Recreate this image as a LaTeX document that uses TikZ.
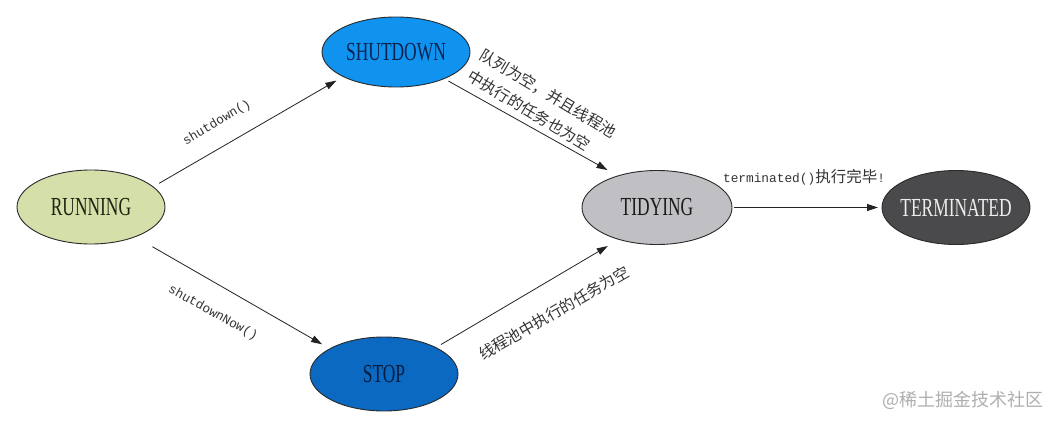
\documentclass[tikz,border=0pt]{standalone}
\usepackage{fontspec}
\setmainfont{Liberation Serif}
\newfontfamily\cjkf{Noto Sans CJK SC}
\newfontfamily\monof{Liberation Mono}
\usetikzlibrary{shapes.geometric,arrows.meta}
\definecolor{runfill}{HTML}{D4DFAA}
\definecolor{runtext}{HTML}{1E2410}
\definecolor{shutfill}{HTML}{0F93EF}
\definecolor{shuttext}{HTML}{0B2350}
\definecolor{stopfill}{HTML}{0B69C2}
\definecolor{stoptext}{HTML}{071D3F}
\definecolor{tidyfill}{HTML}{C0BFC4}
\definecolor{tidytext}{HTML}{1A1A1A}
\definecolor{termfill}{HTML}{4A494B}
\definecolor{termtext}{HTML}{EDEDED}
\definecolor{linec}{HTML}{2A2A2A}
\definecolor{arrc}{HTML}{222222}
\definecolor{lblc}{HTML}{333333}
\definecolor{wmc}{HTML}{AFAFAF}
\newcommand\stxt[1]{\makebox[0pt]{\scalebox{0.67}[1]{#1}}}
\begin{document}
\begin{tikzpicture}[x=1pt,y=-1pt,
  state/.style={ellipse,draw=linec,line width=0.9pt,minimum width=148pt,minimum height=74pt,inner sep=0pt,outer sep=0pt,font=\fontsize{26}{26}\selectfont},
  conn/.style={draw=arrc,line width=0.8pt,-{Triangle[length=11pt,width=7pt]}},
  lbl/.style={text=lblc,inner sep=0pt},
  monolbl/.style={lbl,font=\monof\fontsize{12.8}{14}\selectfont},
  cjklbl/.style={lbl,font=\cjkf\fontsize{15.5}{24}\selectfont},
]
\useasboundingbox[fill=white] (0,0) rectangle (1059,425);

\node[state,fill=runfill,text=runtext] (run) at (91,207) {\stxt{RUNNING}};
\node[state,fill=shutfill,text=shuttext,minimum height=70pt] (shut) at (396,52) {\stxt{SHUTDOWN}};
\node[state,fill=stopfill,text=stoptext] (stop) at (384,374) {\stxt{STOP}};
\node[state,fill=tidyfill,text=tidytext,minimum width=150pt] (tidy) at (657,207.5) {\stxt{TIDYING}};
\node[state,fill=termfill,text=termtext] (term) at (956,207.5) {\stxt{TERMINATED}};

\draw[conn,shorten <=7pt,shorten >=8pt] (run.18) -- (shut.205);
\draw[conn,shorten <=5pt,shorten >=12pt] (shut.-29) -- (tidy.141);
\draw[conn,shorten <=20pt,shorten >=9pt] (run.-34) -- (stop.155);
\draw[conn,shorten <=6pt,shorten >=13pt] (stop.27) -- (tidy.220);
\draw[conn,shorten <=2pt,shorten >=4pt] (tidy.east) -- (term.west);

\node[monolbl,rotate=31] (l1) at (217,123) {shutdown()};
\node[cjklbl,rotate=-31,align=left] (l2) at (542,104) {队列为空，并且线程池\\中执行的任务也为空};
\node[monolbl,rotate=-29] (l3) at (213,313) {shutdownNow()};
\node[cjklbl,rotate=30] (l4) at (554,313) {线程池中执行的任务为空};
\node[lbl] (l5) at (804,177) {{\monof\fontsize{12.8}{14}\selectfont terminated()}{\cjkf\fontsize{15.5}{18}\selectfont 执行完毕}{\monof\fontsize{12.8}{14}\selectfont !}};
\node[text=wmc,inner sep=0pt,font=\cjkf\fontsize{18}{20}\selectfont] (wm) at (963,400) {@稀土掘金技术社区};
\end{tikzpicture}
\end{document}
